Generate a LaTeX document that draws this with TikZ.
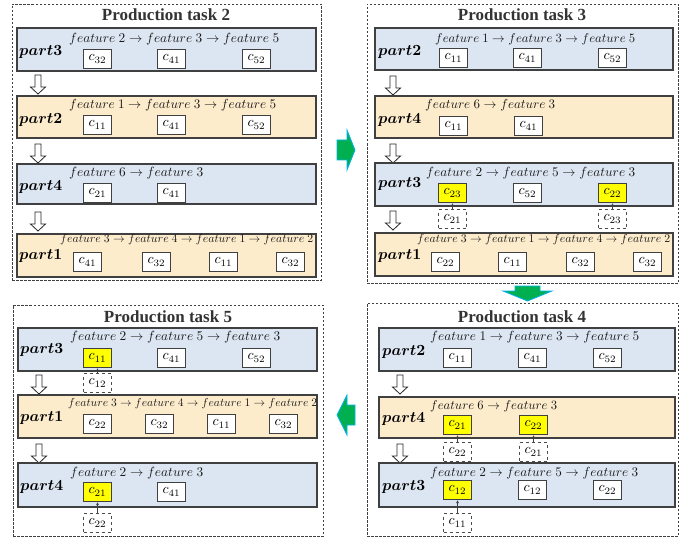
\documentclass[tikz,border=0pt]{standalone}
\usepackage{amsmath}
\usepackage{graphicx}
\usepackage{fontspec}
\setmainfont{Liberation Serif}
\usetikzlibrary{fit,arrows.meta}
\definecolor{bluef}{RGB}{220,230,242}
\definecolor{orgf}{RGB}{253,236,204}
\definecolor{edge}{RGB}{64,64,64}
\definecolor{grn}{RGB}{0,176,80}
\definecolor{cyn}{RGB}{0,176,240}
\definecolor{yel}{RGB}{255,255,0}
\newcommand\fe[1]{feature\ #1}
\newcommand\myrow[6]{\node[rowbox,fill=#2,fit={(#3,#4) (#5,#6)}] (#1) {};}
\newcommand\mylab[4]{\node[plab] (#1) at (#2,#3) {\scalebox{1.55}{$\boldsymbol{#4}$}};}
\newcommand\myfeat[5]{\node[ftxt] (#1) at (#2,#3) {\resizebox{#4pt}{!}{$#5$}};}
\newcommand\mycell[4]{\node[cell] (#1) at (#2,#3) {\scalebox{1.4}{$c_{#4}$}};}
\newcommand\myycell[4]{\node[cell,fill=yel] (#1) at (#2,#3) {\scalebox{1.4}{$c_{#4}$}};}
\newcommand\mydcell[4]{\node[dcell] (#1) at (#2,#3) {\scalebox{1.4}{$c_{#4}$}};}
\tikzset{
  panel/.style={draw=black!75, dash pattern=on 2.5pt off 1.5pt, line width=0.9pt, inner sep=0},
  ttl/.style={font=\fontsize{17}{17}\selectfont\bfseries, text=black!80, inner sep=0},
  rowbox/.style={draw=edge, line width=1.3pt, inner sep=0},
  plab/.style={anchor=west, inner sep=0},
  ftxt/.style={anchor=west, inner sep=0, text=black!90},
  cell/.style={draw=edge, fill=white, line width=1pt, minimum width=28pt, minimum height=19pt, inner sep=0, anchor=north west},
  dcell/.style={cell, draw=black!70, dashed, fill=white},
  upar/.style={-{Latex[length=3pt,width=3pt]}, line width=0.7pt, draw=edge},
  downarr/.pic={\draw[fill=white, draw=black!85, line width=0.8pt] (-3,0) -- (3,0) -- (3,12) -- (7.5,12) -- (0,19) -- (-7.5,12) -- (-3,12) -- cycle;},
  garrow/.style={fill=grn, draw=cyn, line width=0.8pt, line join=miter}
}
\begin{document}
\begin{tikzpicture}[x=1pt,y=-1pt]
\useasboundingbox[fill=white] (0,0) rectangle (690,540);

% ===== Production task 2 (top left)
\node[panel, fit={(12,4) (321,280)}] (P2) {};
\node[ttl] (P2t) at (166,15) {Production task 2};
\myrow{P2a}{bluef}{17}{28}{316}{71}
\mylab{P2al}{19}{52}{part3}
\myfeat{P2af}{69}{39}{210}{\fe2\rightarrow\fe3\rightarrow\fe5}
\mycell{P2a1}{83}{49}{32}
\mycell{P2a2}{157}{49}{41}
\mycell{P2a3}{242}{49}{52}
\pic at (38,75) {downarr};
\myrow{P2b}{orgf}{17}{96}{316}{138}
\mylab{P2bl}{19}{120}{part2}
\myfeat{P2bf}{69}{105}{207}{\fe1\rightarrow\fe3\rightarrow\fe5}
\mycell{P2b1}{83}{115}{11}
\mycell{P2b2}{157}{115}{41}
\mycell{P2b3}{242}{115}{52}
\pic at (38,144) {downarr};
\myrow{P2c}{bluef}{17}{164}{316}{204}
\mylab{P2cl}{19}{187}{part4}
\myfeat{P2cf}{69}{173}{134}{\fe6\rightarrow\fe3}
\mycell{P2c1}{83}{183}{21}
\mycell{P2c2}{157}{183}{41}
\pic at (38,212) {downarr};
\myrow{P2d}{orgf}{17}{234}{316}{277}
\mylab{P2dl}{19}{256}{part1}
\myfeat{P2df}{60}{240}{253}{\fe3\rightarrow\fe4\rightarrow\fe1\rightarrow\fe2}
\mycell{P2d1}{73}{252}{41}
\mycell{P2d2}{142}{252}{32}
\mycell{P2d3}{209}{252}{11}
\mycell{P2d4}{276}{252}{32}

% ===== Production task 3 (top right)
\node[panel, fit={(367,4) (678,283)}] (P3) {};
\node[ttl] (P3t) at (522,15) {Production task 3};
\myrow{P3a}{bluef}{375}{28}{673}{70}
\mylab{P3al}{378}{52}{part2}
\myfeat{P3af}{435}{39}{200}{\fe1\rightarrow\fe3\rightarrow\fe5}
\mycell{P3a1}{439}{48}{11}
\mycell{P3a2}{513}{48}{41}
\mycell{P3a3}{598}{48}{52}
\pic at (393,76) {downarr};
\myrow{P3b}{orgf}{375}{96}{673}{138}
\mylab{P3bl}{378}{120}{part4}
\myfeat{P3bf}{425}{105}{130}{\fe6\rightarrow\fe3}
\mycell{P3b1}{439}{116}{11}
\mycell{P3b2}{514}{116}{41}
\pic at (393,144) {downarr};
\myrow{P3c}{bluef}{375}{163}{673}{206}
\mylab{P3cl}{378}{184}{part3}
\myfeat{P3cf}{426}{173}{209}{\fe2\rightarrow\fe5\rightarrow\fe3}
\myycell{P3c1}{438}{183}{23}
\mycell{P3c2}{513}{183}{52}
\myycell{P3c3}{598}{183}{22}
\mydcell{P3d1}{438}{209}{21}
\mydcell{P3d3}{598}{209}{23}
\draw[upar] (P3d1.north) -- (P3c1.south);
\draw[upar] (P3d3.north) -- (P3c3.south);
\pic at (393,211) {downarr};
\myrow{P3d}{orgf}{375}{233}{673}{276}
\mylab{P3dl}{378}{256}{part1}
\myfeat{P3df}{417}{240}{253}{\fe3\rightarrow\fe1\rightarrow\fe4\rightarrow\fe2}
\mycell{P3e1}{431}{252}{22}
\mycell{P3e2}{498}{252}{11}
\mycell{P3e3}{566}{252}{32}
\mycell{P3e4}{633}{252}{32}

% ===== Production task 4 (bottom right)
\node[panel, fit={(367,303) (678,536)}] (P4) {};
\node[ttl] (P4t) at (522,317) {Production task 4};
\myrow{P4a}{bluef}{379}{328}{675}{371}
\mylab{P4al}{382}{352}{part2}
\myfeat{P4af}{430}{337}{209}{\fe1\rightarrow\fe3\rightarrow\fe5}
\mycell{P4a1}{443}{348}{11}
\mycell{P4a2}{518}{348}{41}
\mycell{P4a3}{593}{348}{52}
\pic at (400,375) {downarr};
\myrow{P4b}{orgf}{379}{397}{675}{438}
\mylab{P4bl}{382}{419}{part4}
\myfeat{P4bf}{430}{406}{127}{\fe6\rightarrow\fe3}
\myycell{P4b1}{443}{415}{21}
\myycell{P4b2}{519}{415}{22}
\mydcell{P4x1}{443}{442}{22}
\mydcell{P4x2}{519}{442}{21}
\draw[upar] (P4x1.north) -- (P4b1.south);
\draw[upar] (P4x2.north) -- (P4b2.south);
\pic at (400,444) {downarr};
\myrow{P4c}{bluef}{379}{463}{675}{507}
\mylab{P4cl}{382}{487}{part3}
\myfeat{P4cf}{430}{473}{208}{\fe2\rightarrow\fe5\rightarrow\fe3}
\myycell{P4c1}{443}{480}{12}
\mycell{P4c2}{518}{480}{12}
\mycell{P4c3}{593}{480}{22}
\mydcell{P4y1}{443}{513}{11}
\draw[upar] (P4y1.north) -- (P4c1.south);

% ===== Production task 5 (bottom left)
\node[panel, fit={(13,305) (323,536)}] (P5) {};
\node[ttl] (P5t) at (168,317) {Production task 5};
\myrow{P5a}{bluef}{18}{328}{317}{371}
\mylab{P5al}{20}{350}{part3}
\myfeat{P5af}{70}{337}{210}{\fe2\rightarrow\fe5\rightarrow\fe3}
\myycell{P5a1}{83}{348}{11}
\mycell{P5a2}{157}{348}{41}
\mycell{P5a3}{242}{348}{52}
\mydcell{P5x1}{83}{373}{12}
\draw[upar] (P5x1.north) -- (P5a1.south);
\pic at (39,375) {downarr};
\myrow{P5b}{orgf}{18}{395}{317}{438}
\mylab{P5bl}{20}{418}{part1}
\myfeat{P5bf}{68}{404}{249}{\fe3\rightarrow\fe4\rightarrow\fe1\rightarrow\fe2}
\mycell{P5b1}{83}{414}{22}
\mycell{P5b2}{145}{414}{32}
\mycell{P5b3}{207}{414}{11}
\mycell{P5b4}{269}{414}{32}
\pic at (39,444) {downarr};
\myrow{P5c}{bluef}{18}{463}{317}{507}
\mylab{P5cl}{20}{487}{part4}
\myfeat{P5cf}{70}{473}{133}{\fe2\rightarrow\fe3}
\myycell{P5c1}{83}{482}{21}
\mycell{P5c2}{157}{482}{41}
\mydcell{P5y1}{83}{513}{22}
\draw[upar] (P5y1.north) -- (P5c1.south);

% ===== green flow arrows
\draw[garrow] (337,140) -- (347,140) -- (347,130) -- (355,150) -- (347,170) -- (347,160) -- (337,160) -- cycle;
\draw[garrow] (515,286) -- (540,286) -- (540,291) -- (552,291) -- (527.5,301) -- (503,291) -- (515,291) -- cycle;
\draw[garrow] (355,405) -- (347,405) -- (347,395) -- (337,415) -- (347,435) -- (347,425) -- (355,425) -- cycle;
\end{tikzpicture}
\end{document}
